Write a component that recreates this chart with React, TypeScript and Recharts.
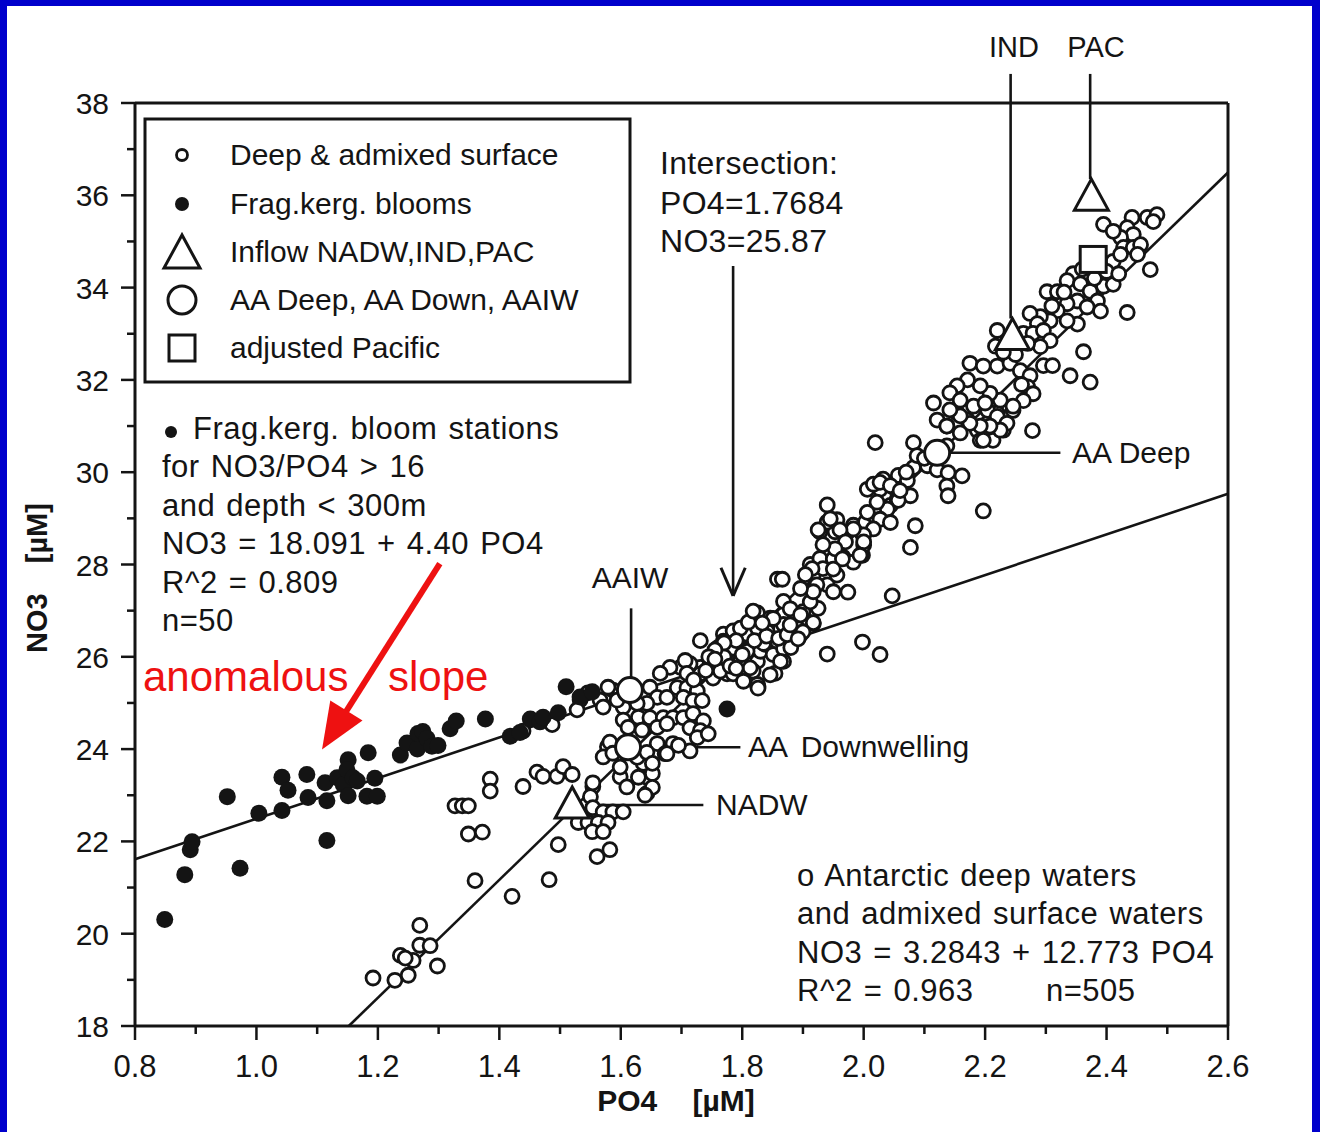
import React from "react";
import {
  ScatterChart,
  Scatter,
  XAxis,
  YAxis,
  ReferenceLine,
  ReferenceDot,
} from "recharts";

type Pt = [number, number];

const INK = "#141414";
const RED = "#ee1111";
const FONT = "'Liberation Sans', Arial, Helvetica, sans-serif";

// axis ticks
const po4Ticks = [0.8, 0.9, 1.0, 1.1, 1.2, 1.3, 1.4, 1.5, 1.6, 1.7, 1.8, 1.9, 2.0, 2.1, 2.2, 2.3, 2.4, 2.5, 2.6];
const no3Ticks = [18, 19, 20, 21, 22, 23, 24, 25, 26, 27, 28, 29, 30, 31, 32, 33, 34, 35, 36, 37, 38];

// Antarctic deep waters and admixed surface waters (PO4, NO3)
const deepWaters: Pt[] = [
  [1.192, 19.04], [1.228, 18.99], [1.237, 19.53], [1.25, 19.1], [1.258, 19.42], [1.269, 19.75], [1.269, 20.18],
  [1.286, 19.74], [1.298, 19.3], [1.245, 19.47], [1.36, 21.15], [1.421, 20.81], [1.482, 21.17], [1.497, 21.93],
  [1.349, 22.16], [1.372, 22.2], [1.327, 22.77], [1.339, 22.77], [1.349, 22.77], [1.385, 23.35], [1.385, 23.09],
  [1.439, 23.19], [1.462, 23.5], [1.472, 23.41], [1.495, 23.41], [1.505, 23.62], [1.52, 23.45], [1.554, 23.19],
  [1.55, 22.97], [1.554, 22.73], [1.571, 22.64], [1.587, 22.64], [1.604, 22.64], [1.53, 22.41], [1.546, 22.41],
  [1.563, 22.41], [1.579, 22.41], [1.553, 22.21], [1.571, 22.21], [1.561, 21.67], [1.582, 21.82],
  [1.599, 23.4], [1.61, 23.18], [1.643, 23.04], [1.637, 23.69], [1.643, 23.39], [1.599, 23.91], [1.578, 24.05],
  [1.571, 23.83], [1.652, 23.47], [1.66, 24.12], [1.673, 23.9], [1.714, 23.96], [1.686, 24.12], [1.582, 24.15],
  [1.587, 23.91], [1.627, 23.82], [1.643, 23.93], [1.695, 24.08], [1.652, 23.69], [1.629, 23.39], [1.652, 23.17],
  [1.64, 23.0], [1.554, 23.27], [1.599, 23.61], [1.676, 23.9],
  [1.731, 25.77], [1.714, 25.7], [1.698, 25.77], [1.681, 25.77], [1.665, 25.64], [1.648, 25.34], [1.693, 25.33],
  [1.709, 25.33], [1.726, 25.26], [1.66, 25.12], [1.676, 25.12], [1.703, 25.12], [1.719, 25.05], [1.643, 24.99],
  [1.604, 24.91], [1.587, 25.28], [1.566, 25.06], [1.546, 25.22], [1.627, 24.99], [1.629, 24.69], [1.648, 24.68],
  [1.67, 24.68], [1.686, 24.68], [1.703, 24.68], [1.719, 24.77], [1.736, 24.61], [1.604, 24.63], [1.612, 24.47],
  [1.635, 24.41], [1.66, 24.47], [1.676, 24.55], [1.714, 24.46], [1.731, 24.4], [1.726, 24.25], [1.744, 24.33],
  [1.439, 24.39], [1.533, 25.07], [1.571, 24.91], [1.579, 25.34], [1.594, 25.06], [1.528, 24.85], [1.487, 24.53],
  [1.731, 26.35], [1.769, 26.49], [1.785, 26.56], [1.797, 26.27], [1.78, 26.12], [1.764, 26.06], [1.808, 26.49],
  [1.813, 26.19], [1.775, 25.91], [1.792, 25.91], [1.808, 25.91], [1.825, 25.9], [1.83, 26.12], [1.759, 25.76],
  [1.775, 25.63], [1.802, 25.63], [1.818, 25.69], [1.838, 26.27], [1.851, 26.12], [1.868, 25.9], [1.854, 25.64],
  [1.826, 25.36], [1.752, 25.54], [1.825, 26.95], [1.846, 26.84], [1.868, 26.92], [1.887, 26.83], [1.904, 26.8],
  [1.917, 26.72], [1.879, 26.61], [1.896, 26.48], [1.863, 26.59], [1.841, 26.55], [1.825, 26.62], [1.858, 26.33],
  [1.835, 26.29], [1.797, 26.62], [1.769, 26.34], [1.785, 26.19], [1.808, 26.12], [1.797, 25.91], [1.747, 25.84],
  [1.764, 25.69], [1.785, 25.63], [1.813, 25.76], [1.851, 26.05], [1.868, 26.18], [1.863, 25.9], [1.846, 25.61],
  [1.825, 25.4], [1.802, 25.47], [1.731, 25.63], [1.714, 25.85], [1.706, 25.92], [1.709, 25.64], [1.826, 25.32],
  [1.94, 26.06], [1.998, 26.32], [2.027, 26.05], [1.734, 25.05],
  [1.76, 26.2], [1.77, 26.0], [1.78, 25.8], [1.79, 26.35], [1.8, 26.05], [1.77, 26.3], [1.755, 26.15],
  [1.79, 25.75], [1.745, 26.0], [1.82, 26.35], [1.81, 26.75], [1.84, 26.45], [1.755, 25.95], [1.74, 25.7],
  [1.72, 25.5], [1.86, 26.4], [1.88, 26.2], [1.9, 26.7], [1.925, 27.05],
  [1.912, 28.0], [1.907, 27.56], [1.917, 27.78], [1.9, 26.98], [1.868, 26.7], [1.851, 26.83], [1.818, 26.99],
  [1.833, 26.73], [1.874, 26.48], [1.892, 26.61], [1.912, 27.19], [1.858, 27.68], [1.866, 27.68], [1.928, 28.13],
  [1.95, 28.12], [1.966, 28.16], [1.983, 28.05], [1.998, 28.2], [2.0, 28.42], [1.998, 28.66], [1.983, 28.85],
  [2.003, 28.92], [2.016, 29.07], [2.027, 29.2], [2.044, 29.28], [2.055, 29.41], [2.077, 29.49], [2.049, 29.67],
  [2.027, 29.63], [2.006, 29.63], [2.016, 29.74], [2.032, 29.85], [2.057, 29.93], [2.082, 30.1], [2.105, 30.14],
  [2.121, 30.05], [2.139, 29.99], [2.162, 29.92], [2.137, 29.7], [2.139, 29.49], [1.917, 27.48], [1.94, 27.56],
  [1.95, 27.41], [1.974, 27.4], [1.956, 27.77], [1.933, 27.91], [1.915, 27.91], [2.085, 28.84], [2.077, 28.37],
  [2.047, 27.32], [1.94, 29.29], [1.928, 28.71], [1.953, 28.71], [1.956, 28.97], [1.94, 28.92],
  [2.019, 30.64], [2.082, 30.64], [2.088, 30.36], [2.137, 30.57], [2.121, 31.13], [2.137, 31.0], [2.154, 31.28],
  [2.171, 31.13], [2.187, 30.91], [2.204, 31.06], [2.22, 31.28], [2.23, 30.91], [2.192, 30.69], [2.213, 30.69],
  [2.115, 31.5], [2.246, 31.34], [2.027, 29.78], [2.044, 29.71], [2.072, 29.82], [2.057, 29.39], [2.039, 29.2],
  [2.022, 29.35], [2.006, 29.13], [2.027, 28.98], [2.044, 28.91], [2.016, 28.77], [2.0, 28.64], [1.983, 28.77],
  [1.961, 28.75], [1.945, 28.99], [1.925, 28.75], [1.97, 28.49], [1.953, 28.34], [1.933, 28.43], [2.0, 28.49],
  [1.994, 28.2], [1.965, 28.12], [1.95, 27.9], [1.904, 27.78], [1.923, 27.56], [1.917, 27.41], [1.896, 27.48],
  [1.868, 27.2], [1.879, 27.04], [1.896, 26.91], [1.917, 26.74], [1.9, 26.54], [1.879, 26.69], [1.892, 26.39],
  [2.197, 29.16], [2.07, 30.0], [2.1, 30.3], [2.06, 29.6],
  [2.395, 35.37], [2.442, 35.52], [2.467, 35.52], [2.483, 35.58], [2.477, 35.43], [2.434, 35.3], [2.444, 35.15],
  [2.423, 35.09], [2.411, 35.22], [2.428, 34.87], [2.444, 34.87], [2.456, 34.93], [2.451, 34.72], [2.411, 34.57],
  [2.423, 34.72], [2.472, 34.39], [2.345, 34.3], [2.335, 34.15], [2.357, 34.08], [2.373, 33.92], [2.395, 34.03],
  [2.411, 34.07], [2.385, 33.71], [2.352, 33.71], [2.368, 33.58], [2.39, 33.49], [2.335, 33.65], [2.319, 33.5],
  [2.302, 33.91], [2.319, 33.91], [2.434, 33.46], [2.352, 33.21], [2.335, 33.28], [2.307, 33.28], [2.291, 33.37],
  [2.274, 33.44], [2.286, 33.22], [2.263, 33.01], [2.279, 33.01], [2.296, 33.07], [2.307, 32.85], [2.291, 32.72],
  [2.27, 32.79], [2.22, 33.07], [2.217, 32.73], [2.362, 32.61], [2.34, 32.09], [2.373, 31.95], [2.296, 32.31],
  [2.311, 32.31], [2.175, 32.36], [2.197, 32.3], [2.22, 32.3], [2.241, 32.36], [2.258, 32.2], [2.274, 32.09],
  [2.27, 31.85], [2.279, 31.7], [2.263, 31.55], [2.246, 31.43], [2.225, 31.56], [2.208, 31.71], [2.192, 31.87],
  [2.171, 32.0], [2.154, 31.87], [2.142, 31.72], [2.159, 31.56], [2.181, 31.43], [2.204, 31.34], [2.22, 31.21],
  [2.236, 31.06], [2.225, 30.91], [2.208, 31.0], [2.192, 31.0], [2.175, 31.06], [2.159, 31.22], [2.142, 31.35],
  [2.137, 31.0], [2.159, 30.85], [2.197, 30.69], [2.278, 30.9],
  [2.25, 32.55], [2.23, 32.6], [2.26, 31.9], [2.2, 31.5], [2.31, 33.6], [2.33, 33.9], [2.36, 34.4], [2.38, 34.2],
  [2.4, 34.35], [2.42, 34.3],
];

// Fragilariopsis kerguelensis bloom stations
const bloomStations: Pt[] = [
  [0.849, 20.31], [0.882, 21.28], [0.891, 21.82], [0.894, 21.99], [0.952, 22.97], [0.973, 21.42], [1.004, 22.61],
  [1.042, 22.67], [1.042, 23.39], [1.052, 23.11], [1.083, 23.45], [1.085, 22.95], [1.116, 22.88], [1.116, 22.02],
  [1.113, 23.27], [1.133, 23.38], [1.143, 23.23], [1.151, 23.77], [1.149, 23.55], [1.159, 23.38], [1.151, 22.99],
  [1.166, 23.31], [1.184, 23.92], [1.195, 23.37], [1.182, 22.98], [1.199, 22.98], [1.237, 23.87], [1.248, 24.13],
  [1.265, 24.0], [1.266, 24.34], [1.274, 24.38], [1.281, 24.23], [1.289, 24.06], [1.299, 24.08], [1.319, 24.44],
  [1.329, 24.61], [1.377, 24.65], [1.418, 24.28], [1.434, 24.36], [1.451, 24.65], [1.467, 24.59], [1.472, 24.69],
  [1.497, 24.79], [1.51, 25.35], [1.533, 25.13], [1.553, 25.24], [1.775, 24.87],
];

// inflow NADW, IND, PAC
const inflowWaters: Pt[] = [[1.52, 22.79], [2.245, 32.94], [2.375, 35.96]];
// AA Deep, AAIW, AA Down
const aaWaters: Pt[] = [[2.121, 30.42], [1.615, 25.28], [1.612, 24.04]];
const adjustedPacific: Pt[] = [[2.378, 34.61]];

// regressions
const deepFit = { intercept: 3.2843, slope: 12.773 };
const bloomFit = { intercept: 18.091, slope: 4.4 };

// annotation leaders (PO4, NO3)
const aaiwLeader: Pt[] = [[1.617, 25.56], [1.617, 27.05]];
const aaDeepLeader: Pt[] = [[2.142, 30.42], [2.324, 30.42]];
const aaDownLeader: Pt[] = [[1.632, 24.04], [1.797, 24.04]];
const nadwLeader: Pt[] = [[1.541, 22.79], [1.736, 22.79]];
const indLeader: Pt[] = [[2.242, 33.33], [2.242, 38.63]];
const pacLeader: Pt[] = [[2.373, 36.35], [2.373, 38.63]];
const intersectionArrow: Pt[] = [[1.785, 34.47], [1.785, 27.32]];
const intersectionHead: Pt[] = [[1.765, 27.93], [1.785, 27.32], [1.805, 27.93]];
const slopeArrow: Pt[] = [[1.302, 28.02], [1.13, 24.45]];
const slopeArrowTip: Pt = [1.108, 23.99];

const rows = (pts: Pt[]) => pts.map(([x, y]) => ({ x, y }));
const seg = (a: Pt, b: Pt) => [{ x: a[0], y: a[1] }, { x: b[0], y: b[1] }];

const deepFitRows = [
  { x: (18 - deepFit.intercept) / deepFit.slope, y: 18 },
  { x: 2.6, y: deepFit.intercept + deepFit.slope * 2.6 },
];
const bloomFitRows = [
  { x: 0.8, y: bloomFit.intercept + bloomFit.slope * 0.8 },
  { x: 2.6, y: bloomFit.intercept + bloomFit.slope * 2.6 },
];

const OpenDot = (p: any) => (
  <circle cx={p.cx} cy={p.cy} r={7} fill="#fff" stroke={INK} strokeWidth={2.8} />
);
const FilledDot = (p: any) => <circle cx={p.cx} cy={p.cy} r={8.5} fill={INK} />;
const BigCircle = (p: any) => (
  <circle cx={p.cx} cy={p.cy} r={12.5} fill="#fff" stroke={INK} strokeWidth={3} />
);
const Triangle = (p: any) => (
  <polygon
    points={`${p.cx},${p.cy - 18} ${p.cx - 17},${p.cy + 13} ${p.cx + 17},${p.cy + 13}`}
    fill="#fff"
    stroke={INK}
    strokeWidth={3}
  />
);
const Square = (p: any) => (
  <rect x={p.cx - 13} y={p.cy - 13} width={26} height={26} fill="#fff" stroke={INK} strokeWidth={3} />
);
const NoShape = () => <g />;

const isMajorX = (v: number) => Math.round(v * 10) % 2 === 0;
const isMajorY = (v: number) => Math.round(v) % 2 === 0;

function BottomTick({ x, y, payload }: any) {
  const major = isMajorX(payload.value);
  return (
    <g>
      <line x1={x} x2={x} y1={y} y2={y + (major ? 14 : 8)} stroke={INK} strokeWidth={2.5} />
      {major && (
        <text x={x} y={y + 51} textAnchor="middle" fontFamily={FONT} fontSize={31} fill={INK}>
          {payload.value.toFixed(1)}
        </text>
      )}
    </g>
  );
}

function TopTick({ x, y, payload }: any) {
  const major = isMajorX(payload.value);
  return <line x1={x} x2={x} y1={y} y2={y - (major ? 14 : 8)} stroke={INK} strokeWidth={2.5} />;
}

function LeftTick({ x, y, payload }: any) {
  const major = isMajorY(payload.value);
  return (
    <g>
      <line x1={x} x2={x - (major ? 14 : 8)} y1={y} y2={y} stroke={INK} strokeWidth={2.5} />
      {major && (
        <text x={x - 26} y={y + 11} textAnchor="end" fontFamily={FONT} fontSize={30} fill={INK}>
          {payload.value}
        </text>
      )}
    </g>
  );
}

function RightTick({ x, y, payload }: any) {
  const major = isMajorY(payload.value);
  return <line x1={x} x2={x + (major ? 14 : 8)} y1={y} y2={y} stroke={INK} strokeWidth={2.5} />;
}

const ArrowHead = (p: any) => (
  <polygon
    points="0,0 -46,-19 -46,19"
    transform={`translate(${p.cx},${p.cy}) rotate(122)`}
    fill={RED}
  />
);

function Annotations() {
  const t = { fontFamily: FONT, fill: INK } as const;
  return (
    <svg
      width={1320}
      height={1132}
      style={{ position: "absolute", left: 0, top: 0, pointerEvents: "none" }}
    >
      {/* legend box */}
      <rect x={145} y={119} width={485} height={263} fill="none" stroke={INK} strokeWidth={3} />
      <circle cx={182} cy={155} r={5.5} fill="#fff" stroke={INK} strokeWidth={2.8} />
      <circle cx={182} cy={204} r={7} fill={INK} />
      <polygon points="182,235 164,268 200,268" fill="#fff" stroke={INK} strokeWidth={3} />
      <circle cx={182} cy={300} r={14} fill="#fff" stroke={INK} strokeWidth={3} />
      <rect x={169} y={335} width={26} height={26} fill="#fff" stroke={INK} strokeWidth={3} />
      <g {...t} fontSize={30}>
        <text x={230} y={165}>Deep &amp; admixed surface</text>
        <text x={230} y={214}>Frag.kerg. blooms</text>
        <text x={230} y={262}>Inflow NADW,IND,PAC</text>
        <text x={230} y={310}>AA Deep, AA Down, AAIW</text>
        <text x={230} y={358}>adjusted Pacific</text>
      </g>

      {/* bloom regression text */}
      <circle cx={171} cy={432} r={6} fill={INK} />
      <g {...t} fontSize={31} letterSpacing={0.5} wordSpacing={2}>
        <text x={193} y={439}>Frag.kerg. bloom stations</text>
        <text x={162} y={477}>for NO3/PO4 &gt; 16</text>
        <text x={162} y={516}>and depth &lt; 300m</text>
        <text x={162} y={554}>NO3 = 18.091 + 4.40 PO4</text>
        <text x={162} y={593}>R^2 = 0.809</text>
        <text x={162} y={631}>n=50</text>
      </g>

      {/* intersection */}
      <g {...t} fontSize={32} letterSpacing={0.3}>
        <text x={660} y={174}>Intersection:</text>
        <text x={660} y={214}>PO4=1.7684</text>
        <text x={660} y={252}>NO3=25.87</text>
      </g>

      {/* deep regression text */}
      <g {...t} fontSize={31} letterSpacing={0.5} wordSpacing={2}>
        <text x={797} y={886}>o Antarctic deep waters</text>
        <text x={797} y={924}>and admixed surface waters</text>
        <text x={797} y={963}>NO3 = 3.2843 + 12.773 PO4</text>
        <text x={797} y={1001}>R^2 = 0.963</text>
        <text x={1046} y={1001}>n=505</text>
      </g>

      {/* water mass labels */}
      <g {...t} fontSize={30}>
        <text x={630} y={588} textAnchor="middle">AAIW</text>
        <text x={1072} y={463}>AA Deep</text>
        <text x={748} y={757} wordSpacing={6}>AA Downwelling</text>
        <text x={716} y={815}>NADW</text>
      </g>
      <g {...t} fontSize={29}>
        <text x={1014} y={57} textAnchor="middle">IND</text>
        <text x={1096} y={57} textAnchor="middle">PAC</text>
      </g>

      {/* axis titles */}
      <text x={676} y={1111} textAnchor="middle" fontFamily={FONT} fontWeight="bold" fontSize={30} wordSpacing={27} fill={INK}>
        PO4 [µM]
      </text>
      <text
        transform="translate(47,578) rotate(-90)"
        textAnchor="middle"
        fontFamily={FONT}
        fontWeight="bold"
        fontSize={29}
        wordSpacing={22}
        fill={INK}
      >
        NO3 [µM]
      </text>

      {/* red annotation */}
      <g fontFamily={FONT} fontSize={42} fill={RED}>
        <text x={143} y={691}>anomalous</text>
        <text x={388} y={691}>slope</text>
      </g>
    </svg>
  );
}

export default function App() {
  return (
    <div
      style={{
        position: "absolute",
        left: 0,
        top: 0,
        width: 1320,
        height: 1132,
        background: "#fff",
        overflow: "hidden",
      }}
    >
      <ScatterChart
        width={1320}
        height={1132}
        margin={{ top: 73, right: 62, bottom: 36, left: 55 }}
      >
        <XAxis
          dataKey="x"
          type="number"
          domain={[0.8, 2.6]}
          ticks={po4Ticks}
          interval={0}
          height={70}
          tickSize={0}
          tickMargin={0}
          tickLine={false}
          tick={<BottomTick />}
          axisLine={{ stroke: INK, strokeWidth: 3 }}
        />
        <XAxis
          xAxisId="top"
          orientation="top"
          dataKey="x"
          type="number"
          domain={[0.8, 2.6]}
          ticks={po4Ticks}
          interval={0}
          height={30}
          tickSize={0}
          tickMargin={0}
          tickLine={false}
          tick={<TopTick />}
          axisLine={{ stroke: INK, strokeWidth: 3 }}
        />
        <YAxis
          dataKey="y"
          type="number"
          domain={[18, 38]}
          ticks={no3Ticks}
          interval={0}
          width={80}
          tickSize={0}
          tickMargin={0}
          tickLine={false}
          tick={<LeftTick />}
          axisLine={{ stroke: INK, strokeWidth: 3 }}
        />
        <YAxis
          yAxisId="right"
          orientation="right"
          dataKey="y"
          type="number"
          domain={[18, 38]}
          ticks={no3Ticks}
          interval={0}
          width={30}
          tickSize={0}
          tickMargin={0}
          tickLine={false}
          tick={<RightTick />}
          axisLine={{ stroke: INK, strokeWidth: 3 }}
        />

        {/* regression lines */}
        <Scatter data={deepFitRows} line={{ stroke: INK, strokeWidth: 2.6 }} shape={NoShape} isAnimationActive={false} />
        <Scatter data={bloomFitRows} line={{ stroke: INK, strokeWidth: 2.6 }} shape={NoShape} isAnimationActive={false} />

        <Scatter data={rows(deepWaters)} shape={OpenDot} isAnimationActive={false} />
        <Scatter data={rows(bloomStations)} shape={FilledDot} isAnimationActive={false} />
        <Scatter data={rows(aaWaters)} shape={BigCircle} isAnimationActive={false} />
        <Scatter data={rows(inflowWaters)} shape={Triangle} isAnimationActive={false} />
        <Scatter data={rows(adjustedPacific)} shape={Square} isAnimationActive={false} />

        {/* leaders */}
        {[aaiwLeader, aaDeepLeader, aaDownLeader, nadwLeader, indLeader, pacLeader, intersectionArrow].map((l, i) => (
          <ReferenceLine key={i} segment={seg(l[0], l[1])} stroke={INK} strokeWidth={2.6} ifOverflow="visible" />
        ))}
        <ReferenceLine segment={seg(intersectionHead[0], intersectionHead[1])} stroke={INK} strokeWidth={3} ifOverflow="visible" />
        <ReferenceLine segment={seg(intersectionHead[1], intersectionHead[2])} stroke={INK} strokeWidth={3} ifOverflow="visible" />

        {/* red arrow */}
        <ReferenceLine segment={seg(slopeArrow[0], slopeArrow[1])} stroke={RED} strokeWidth={6} ifOverflow="visible" />
        <ReferenceDot x={slopeArrowTip[0]} y={slopeArrowTip[1]} r={0} shape={ArrowHead} ifOverflow="visible" />
      </ScatterChart>
      <Annotations />
      <div style={{ position: "absolute", left: 0, top: 0, width: 1320, height: 6, background: "#0000cc" }} />
      <div style={{ position: "absolute", left: 0, top: 0, width: 7, height: 1132, background: "#0000cc" }} />
      <div style={{ position: "absolute", right: 0, top: 0, width: 8, height: 1132, background: "#0000cc" }} />
    </div>
  );
}
